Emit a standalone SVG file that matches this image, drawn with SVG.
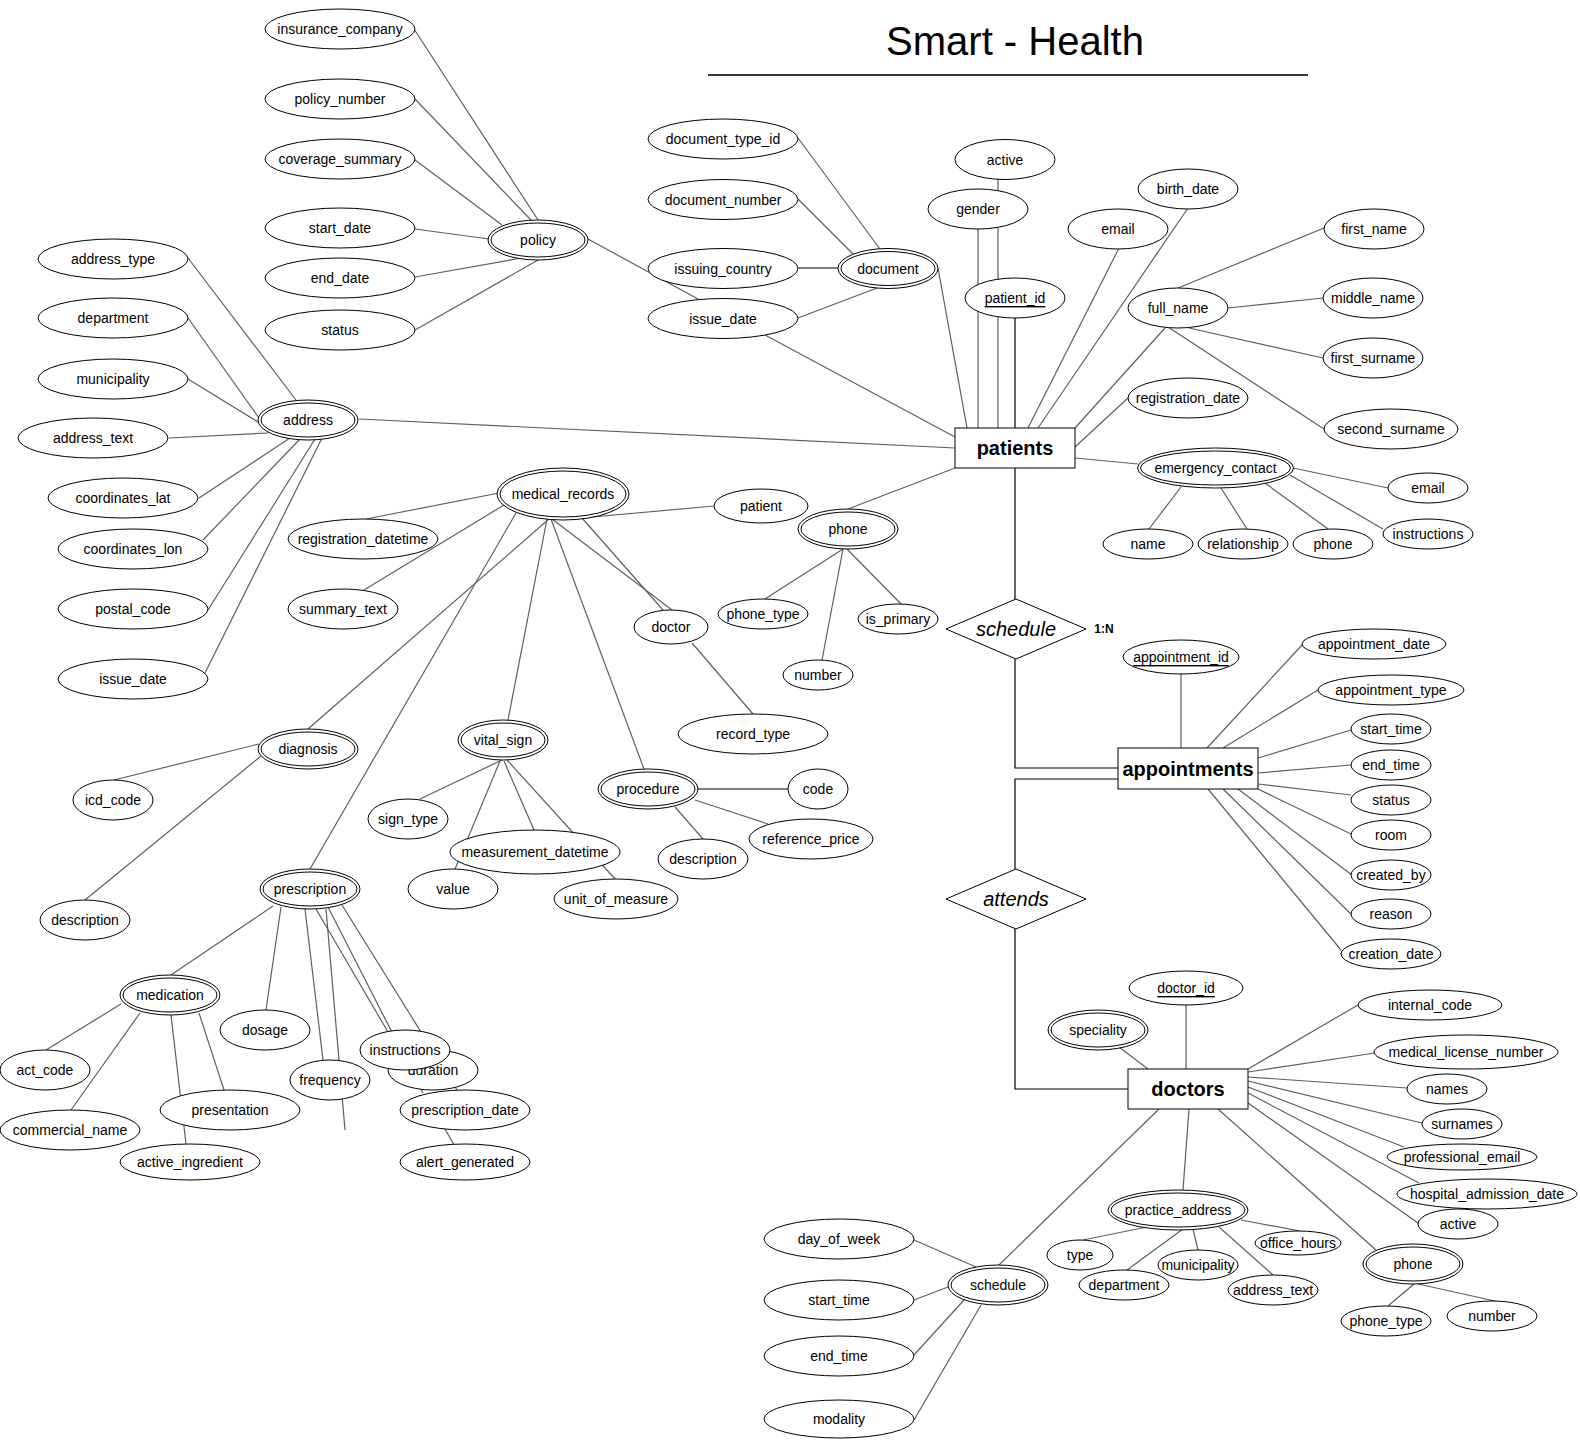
<svg xmlns="http://www.w3.org/2000/svg" width="1580" height="1440" viewBox="0 0 1580 1440">
<style>
text{font-family:"Liberation Sans",Arial,sans-serif;font-size:14px;text-anchor:middle;dominant-baseline:central;fill:#000}
ellipse,rect,polygon{fill:#fff;stroke:#000;stroke-width:1}
#connectors line{stroke:#5f5f5f;stroke-width:1.2}
#connectors .k{stroke:#000}
#connectors path{fill:none;stroke:#000;stroke-width:1.2}
.ent{font-size:20px;font-weight:bold}
.rel{font-size:20px;font-style:italic}
.u{text-decoration:underline}
</style>
<rect x="0" y="0" width="1580" height="1440" style="fill:#fff;stroke:none"/>
<g id="title">
<text x="1015" y="41" style="font-size:40px">Smart - Health</text>
<line x1="708" y1="75" x2="1308" y2="75" style="stroke:#333;stroke-width:2"/>
</g>
<g id="connectors">
<line x1="414" y1="29" x2="538" y2="220"/>
<line x1="415" y1="99" x2="531" y2="220"/>
<line x1="415" y1="160" x2="502" y2="225"/>
<line x1="415" y1="229" x2="489" y2="239"/>
<line x1="415" y1="277" x2="527" y2="257"/>
<line x1="415" y1="330" x2="538" y2="260"/>
<line x1="588" y1="239" x2="698" y2="299"/>
<line x1="188" y1="258" x2="296" y2="400"/>
<line x1="188" y1="318" x2="259" y2="418"/>
<line x1="188" y1="379" x2="263" y2="425"/>
<line x1="169" y1="438" x2="268" y2="433"/>
<line x1="199" y1="498" x2="290" y2="438"/>
<line x1="203" y1="540" x2="300" y2="439"/>
<line x1="208" y1="610" x2="315" y2="439"/>
<line x1="205" y1="673" x2="322" y2="438"/>
<line x1="359" y1="419" x2="955" y2="448"/>
<line x1="798" y1="138" x2="880" y2="249"/>
<line x1="798" y1="199" x2="853" y2="254"/>
<line class="k" x1="798" y1="268" x2="838" y2="268"/>
<line x1="798" y1="318" x2="877" y2="288"/>
<line x1="765" y1="335" x2="955" y2="437"/>
<line x1="938" y1="268" x2="967" y2="428"/>
<line x1="978" y1="229" x2="978" y2="428"/>
<line x1="998" y1="179" x2="998" y2="428"/>
<line class="k" x1="1015" y1="318" x2="1015" y2="428"/>
<line x1="1119" y1="248" x2="1028" y2="428"/>
<line x1="1188" y1="208" x2="1038" y2="428"/>
<line x1="1165" y1="328" x2="1075" y2="428"/>
<line x1="1178" y1="288" x2="1324" y2="228"/>
<line x1="1228" y1="308" x2="1323" y2="298"/>
<line x1="1189" y1="328" x2="1323" y2="358"/>
<line x1="1168" y1="327" x2="1324" y2="429"/>
<line x1="1128" y1="398" x2="1075" y2="447"/>
<line x1="1075" y1="458" x2="1138" y2="464"/>
<line x1="1293" y1="468" x2="1388" y2="488"/>
<line x1="1290" y1="475" x2="1383" y2="529"/>
<line x1="1181" y1="487" x2="1149" y2="529"/>
<line x1="1221" y1="488" x2="1247" y2="529"/>
<line x1="1265" y1="483" x2="1328" y2="529"/>
<line x1="955" y1="468" x2="848" y2="509"/>
<line x1="843" y1="549" x2="765" y2="599"/>
<line x1="843" y1="549" x2="822" y2="660"/>
<line x1="847" y1="549" x2="902" y2="605"/>
<line x1="499" y1="493" x2="366" y2="519"/>
<line x1="504" y1="505" x2="364" y2="590"/>
<line x1="516" y1="513" x2="310" y2="869"/>
<line x1="549" y1="519" x2="308" y2="729"/>
<line x1="547" y1="519" x2="508" y2="720"/>
<line x1="551" y1="519" x2="644" y2="769"/>
<line x1="582" y1="518" x2="663" y2="610"/>
<line x1="552" y1="519" x2="672" y2="610"/>
<line x1="570" y1="519" x2="714" y2="506"/>
<line x1="692" y1="643" x2="753" y2="714"/>
<line x1="259" y1="744" x2="114" y2="780"/>
<line x1="261" y1="756" x2="85" y2="900"/>
<line x1="502" y1="760" x2="420" y2="799"/>
<line x1="500" y1="761" x2="455" y2="869"/>
<line x1="504" y1="761" x2="534" y2="830"/>
<line x1="507" y1="760" x2="616" y2="880"/>
<line class="k" x1="698" y1="789" x2="788" y2="789"/>
<line x1="695" y1="800" x2="768" y2="824"/>
<line x1="675" y1="807" x2="703" y2="839"/>
<line x1="273" y1="906" x2="171" y2="975"/>
<line x1="281" y1="907" x2="266" y2="1010"/>
<line x1="305" y1="909" x2="323" y2="1060"/>
<line x1="326" y1="909" x2="345" y2="1130"/>
<line x1="316" y1="909" x2="388" y2="1032"/>
<line x1="328" y1="907" x2="423" y2="1093"/>
<line x1="342" y1="905" x2="457" y2="1090"/>
<line x1="445" y1="1129" x2="454" y2="1145"/>
<line x1="121" y1="1004" x2="46" y2="1050"/>
<line x1="140" y1="1013" x2="71" y2="1110"/>
<line x1="171" y1="1015" x2="186" y2="1144"/>
<line x1="199" y1="1013" x2="224" y2="1090"/>
<path d="M1015,468 V599"/>
<path d="M1015,659 V768 H1118"/>
<path d="M1015,869 V779 H1118"/>
<path d="M1015,929 V1089 H1128"/>
<line x1="1181" y1="674" x2="1181" y2="748"/>
<line x1="1302" y1="645" x2="1207" y2="748"/>
<line x1="1318" y1="690" x2="1223" y2="748"/>
<line x1="1351" y1="730" x2="1258" y2="758"/>
<line x1="1351" y1="765" x2="1258" y2="773"/>
<line x1="1351" y1="795" x2="1258" y2="784"/>
<line x1="1351" y1="834" x2="1258" y2="789"/>
<line x1="1352" y1="875" x2="1238" y2="789"/>
<line x1="1351" y1="914" x2="1223" y2="789"/>
<line x1="1341" y1="950" x2="1208" y2="789"/>
<line x1="1186" y1="1005" x2="1186" y2="1069"/>
<line x1="1119" y1="1047" x2="1148" y2="1069"/>
<line x1="1358" y1="1005" x2="1248" y2="1069"/>
<line x1="1375" y1="1053" x2="1248" y2="1072"/>
<line x1="1407" y1="1088" x2="1248" y2="1077"/>
<line x1="1422" y1="1123" x2="1248" y2="1081"/>
<line x1="1404" y1="1147" x2="1248" y2="1087"/>
<line x1="1419" y1="1183" x2="1248" y2="1093"/>
<line x1="1418" y1="1223" x2="1248" y2="1103"/>
<line x1="1218" y1="1109" x2="1376" y2="1250"/>
<line x1="1189" y1="1109" x2="1183" y2="1190"/>
<line x1="1159" y1="1109" x2="999" y2="1265"/>
<line x1="1147" y1="1227" x2="1083" y2="1240"/>
<line x1="1183" y1="1229" x2="1127" y2="1270"/>
<line x1="1193" y1="1229" x2="1198" y2="1250"/>
<line x1="1219" y1="1227" x2="1273" y2="1275"/>
<line x1="1241" y1="1220" x2="1300" y2="1231"/>
<line x1="1414" y1="1284" x2="1388" y2="1306"/>
<line x1="1418" y1="1284" x2="1495" y2="1301"/>
<line x1="914" y1="1240" x2="976" y2="1267"/>
<line x1="914" y1="1300" x2="948" y2="1287"/>
<line x1="914" y1="1355" x2="964" y2="1300"/>
<line x1="914" y1="1420" x2="981" y2="1305"/>
</g>
<!-- patients -->
<g id="patients"><rect x="955" y="428" width="120" height="40"/><text class="ent" x="1015" y="448">patients</text></g>
<g id="p_active"><ellipse cx="1005" cy="159.5" rx="50" ry="20"/><text x="1005" y="159.5">active</text></g>
<g id="p_gender"><ellipse cx="978" cy="209" rx="50" ry="20"/><text x="978" y="209">gender</text></g>
<g id="p_patient_id"><ellipse cx="1015" cy="298" rx="50" ry="20"/><text class="u" x="1015" y="298">patient_id</text></g>
<g id="p_email"><ellipse cx="1118" cy="229" rx="50" ry="20"/><text x="1118" y="229">email</text></g>
<g id="p_birth_date"><ellipse cx="1188" cy="189" rx="50" ry="20"/><text x="1188" y="189">birth_date</text></g>
<g id="p_full_name"><ellipse cx="1178" cy="308" rx="50" ry="20"/><text x="1178" y="308">full_name</text></g>
<g id="p_first_name"><ellipse cx="1374" cy="229" rx="50" ry="20"/><text x="1374" y="229">first_name</text></g>
<g id="p_middle_name"><ellipse cx="1373" cy="298" rx="50" ry="20"/><text x="1373" y="298">middle_name</text></g>
<g id="p_first_surname"><ellipse cx="1373" cy="358" rx="50" ry="20"/><text x="1373" y="358">first_surname</text></g>
<g id="p_second_surname"><ellipse cx="1391" cy="429" rx="67" ry="20"/><text x="1391" y="429">second_surname</text></g>
<g id="p_registration_date"><ellipse cx="1188" cy="398" rx="60" ry="20"/><text x="1188" y="398">registration_date</text></g>
<g id="emergency_contact"><ellipse cx="1215.5" cy="468" rx="78" ry="20"/><ellipse cx="1215.5" cy="468" rx="75" ry="17"/><text x="1215.5" y="468">emergency_contact</text></g>
<g id="ec_email"><ellipse cx="1428" cy="488" rx="40" ry="15"/><text x="1428" y="488">email</text></g>
<g id="ec_instructions"><ellipse cx="1428" cy="534" rx="45" ry="15"/><text x="1428" y="534">instructions</text></g>
<g id="ec_name"><ellipse cx="1148" cy="544" rx="45" ry="15"/><text x="1148" y="544">name</text></g>
<g id="ec_relationship"><ellipse cx="1243" cy="544" rx="45" ry="15"/><text x="1243" y="544">relationship</text></g>
<g id="ec_phone"><ellipse cx="1333" cy="544" rx="40" ry="15"/><text x="1333" y="544">phone</text></g>
<!-- document -->
<g id="document"><ellipse cx="888" cy="268.5" rx="50" ry="20"/><ellipse cx="888" cy="268.5" rx="47" ry="17"/><text x="888" y="268.5">document</text></g>
<g id="d_type_id"><ellipse cx="723" cy="139" rx="75" ry="20"/><text x="723" y="139">document_type_id</text></g>
<g id="d_number"><ellipse cx="723" cy="199.5" rx="75" ry="20"/><text x="723" y="199.5">document_number</text></g>
<g id="d_country"><ellipse cx="723" cy="268.5" rx="75" ry="20"/><text x="723" y="268.5">issuing_country</text></g>
<g id="d_issue_date"><ellipse cx="723" cy="318.5" rx="75" ry="20"/><text x="723" y="318.5">issue_date</text></g>
<!-- policy -->
<g id="policy"><ellipse cx="538" cy="240" rx="50" ry="20"/><ellipse cx="538" cy="240" rx="47" ry="17"/><text x="538" y="240">policy</text></g>
<g id="pol_insurance"><ellipse cx="340" cy="29" rx="75" ry="20"/><text x="340" y="29">insurance_company</text></g>
<g id="pol_number"><ellipse cx="340" cy="99" rx="75" ry="20"/><text x="340" y="99">policy_number</text></g>
<g id="pol_coverage"><ellipse cx="340" cy="159" rx="75" ry="20"/><text x="340" y="159">coverage_summary</text></g>
<g id="pol_start"><ellipse cx="340" cy="228" rx="75" ry="20"/><text x="340" y="228">start_date</text></g>
<g id="pol_end"><ellipse cx="340" cy="278" rx="75" ry="20"/><text x="340" y="278">end_date</text></g>
<g id="pol_status"><ellipse cx="340" cy="330" rx="75" ry="20"/><text x="340" y="330">status</text></g>
<!-- address -->
<g id="address"><ellipse cx="308" cy="420" rx="50" ry="20"/><ellipse cx="308" cy="420" rx="47" ry="17"/><text x="308" y="420">address</text></g>
<g id="a_type"><ellipse cx="113" cy="259" rx="75" ry="20"/><text x="113" y="259">address_type</text></g>
<g id="a_department"><ellipse cx="113" cy="318" rx="75" ry="20"/><text x="113" y="318">department</text></g>
<g id="a_municipality"><ellipse cx="113" cy="379" rx="75" ry="20"/><text x="113" y="379">municipality</text></g>
<g id="a_text"><ellipse cx="93" cy="438" rx="75" ry="20"/><text x="93" y="438">address_text</text></g>
<g id="a_lat"><ellipse cx="123" cy="498" rx="75" ry="20"/><text x="123" y="498">coordinates_lat</text></g>
<g id="a_lon"><ellipse cx="133" cy="549" rx="75" ry="20"/><text x="133" y="549">coordinates_lon</text></g>
<g id="a_postal"><ellipse cx="133" cy="609" rx="75" ry="20"/><text x="133" y="609">postal_code</text></g>
<g id="a_issue"><ellipse cx="133" cy="679" rx="75" ry="20"/><text x="133" y="679">issue_date</text></g>
<!-- patient phone -->
<g id="phone"><ellipse cx="848" cy="529" rx="50" ry="20"/><ellipse cx="848" cy="529" rx="47" ry="17"/><text x="848" y="529">phone</text></g>
<g id="ph_type"><ellipse cx="763" cy="614" rx="45" ry="15"/><text x="763" y="614">phone_type</text></g>
<g id="ph_primary"><ellipse cx="898" cy="619" rx="40" ry="15"/><text x="898" y="619">is_primary</text></g>
<g id="ph_number"><ellipse cx="818" cy="675" rx="35" ry="15"/><text x="818" y="675">number</text></g>
<!-- medical records -->
<g id="medical_records"><ellipse cx="563" cy="494" rx="66" ry="26"/><ellipse cx="563" cy="494" rx="63" ry="23"/><text x="563" y="494">medical_records</text></g>
<g id="mr_patient"><ellipse cx="761" cy="506" rx="47" ry="17"/><text x="761" y="506">patient</text></g>
<g id="mr_reg"><ellipse cx="363" cy="539" rx="75" ry="20"/><text x="363" y="539">registration_datetime</text></g>
<g id="mr_summary"><ellipse cx="343" cy="609" rx="55" ry="20"/><text x="343" y="609">summary_text</text></g>
<g id="mr_doctor"><ellipse cx="671" cy="627" rx="37" ry="17"/><text x="671" y="627">doctor</text></g>
<g id="mr_record_type"><ellipse cx="753" cy="734" rx="75" ry="20"/><text x="753" y="734">record_type</text></g>
<g id="diagnosis"><ellipse cx="308" cy="749" rx="50" ry="20"/><ellipse cx="308" cy="749" rx="47" ry="17"/><text x="308" y="749">diagnosis</text></g>
<g id="dg_icd"><ellipse cx="113" cy="800" rx="40" ry="20"/><text x="113" y="800">icd_code</text></g>
<g id="dg_desc"><ellipse cx="85" cy="920" rx="45" ry="20"/><text x="85" y="920">description</text></g>
<g id="vital_sign"><ellipse cx="503" cy="740" rx="45" ry="20"/><ellipse cx="503" cy="740" rx="42" ry="17"/><text x="503" y="740">vital_sign</text></g>
<g id="vs_sign_type"><ellipse cx="408" cy="819" rx="40" ry="20"/><text x="408" y="819">sign_type</text></g>
<g id="vs_value"><ellipse cx="453" cy="889" rx="45" ry="20"/><text x="453" y="889">value</text></g>
<g id="vs_unit"><ellipse cx="616" cy="899" rx="62" ry="20"/><text x="616" y="899">unit_of_measure</text></g>
<g id="vs_measurement"><ellipse cx="535" cy="852" rx="85" ry="22"/><text x="535" y="852">measurement_datetime</text></g>
<g id="procedure"><ellipse cx="648" cy="789" rx="50" ry="20"/><ellipse cx="648" cy="789" rx="47" ry="17"/><text x="648" y="789">procedure</text></g>
<g id="pr_code"><ellipse cx="818" cy="789" rx="30" ry="20"/><text x="818" y="789">code</text></g>
<g id="pr_price"><ellipse cx="811" cy="839" rx="62" ry="20"/><text x="811" y="839">reference_price</text></g>
<g id="pr_desc"><ellipse cx="703" cy="859" rx="45" ry="20"/><text x="703" y="859">description</text></g>
<g id="prescription"><ellipse cx="310" cy="889" rx="50" ry="20"/><ellipse cx="310" cy="889" rx="47" ry="17"/><text x="310" y="889">prescription</text></g>
<g id="medication"><ellipse cx="170" cy="995" rx="50" ry="20"/><ellipse cx="170" cy="995" rx="47" ry="17"/><text x="170" y="995">medication</text></g>
<g id="rx_dosage"><ellipse cx="265" cy="1030" rx="45" ry="20"/><text x="265" y="1030">dosage</text></g>
<g id="md_act"><ellipse cx="45" cy="1070" rx="45" ry="20"/><text x="45" y="1070">act_code</text></g>
<g id="md_commercial"><ellipse cx="70" cy="1130" rx="70" ry="20"/><text x="70" y="1130">commercial_name</text></g>
<g id="md_presentation"><ellipse cx="230" cy="1110" rx="70" ry="20"/><text x="230" y="1110">presentation</text></g>
<g id="md_ingredient"><ellipse cx="190" cy="1162" rx="70" ry="18"/><text x="190" y="1162">active_ingredient</text></g>
<g id="rx_frequency"><ellipse cx="330" cy="1080" rx="40" ry="20"/><text x="330" y="1080">frequency</text></g>
<g id="rx_duration"><ellipse cx="433" cy="1070" rx="45" ry="20"/><text x="433" y="1070">duration</text></g>
<g id="rx_instructions"><ellipse cx="405" cy="1050" rx="45" ry="20"/><text x="405" y="1050">instructions</text></g>
<g id="rx_date"><ellipse cx="465" cy="1110" rx="65" ry="20"/><text x="465" y="1110">prescription_date</text></g>
<g id="rx_alert"><ellipse cx="465" cy="1162" rx="65" ry="18"/><text x="465" y="1162">alert_generated</text></g>
<!-- relationships -->
<g id="schedule_rel"><polygon points="1016,599 1086,629 1016,659 946,629"/><text class="rel" x="1016" y="629">schedule</text><text x="1104" y="629" style="font-size:12px;font-weight:bold">1:N</text></g>
<g id="attends_rel"><polygon points="1016,869 1086,899 1016,929 946,899"/><text class="rel" x="1016" y="899">attends</text></g>
<!-- appointments -->
<g id="appointments"><rect x="1118" y="748" width="140" height="41"/><text class="ent" x="1188" y="768.5">appointments</text></g>
<g id="ap_id"><ellipse cx="1181" cy="657" rx="58" ry="17"/><text class="u" x="1181" y="657">appointment_id</text></g>
<g id="ap_date"><ellipse cx="1374" cy="644" rx="72" ry="15"/><text x="1374" y="644">appointment_date</text></g>
<g id="ap_type"><ellipse cx="1391" cy="690" rx="73" ry="15"/><text x="1391" y="690">appointment_type</text></g>
<g id="ap_start"><ellipse cx="1391" cy="729" rx="40" ry="15"/><text x="1391" y="729">start_time</text></g>
<g id="ap_end"><ellipse cx="1391" cy="765" rx="40" ry="15"/><text x="1391" y="765">end_time</text></g>
<g id="ap_status"><ellipse cx="1391" cy="800" rx="40" ry="15"/><text x="1391" y="800">status</text></g>
<g id="ap_room"><ellipse cx="1391" cy="835" rx="40" ry="15"/><text x="1391" y="835">room</text></g>
<g id="ap_created_by"><ellipse cx="1391" cy="875" rx="40" ry="15"/><text x="1391" y="875">created_by</text></g>
<g id="ap_reason"><ellipse cx="1391" cy="914" rx="40" ry="15"/><text x="1391" y="914">reason</text></g>
<g id="ap_creation"><ellipse cx="1391" cy="954" rx="50" ry="15"/><text x="1391" y="954">creation_date</text></g>
<!-- doctors -->
<g id="doctors"><rect x="1128" y="1069" width="120" height="40"/><text class="ent" x="1188" y="1089">doctors</text></g>
<g id="dr_id"><ellipse cx="1186" cy="988" rx="57" ry="17"/><text class="u" x="1186" y="988">doctor_id</text></g>
<g id="speciality"><ellipse cx="1098" cy="1030" rx="50" ry="20"/><ellipse cx="1098" cy="1030" rx="47" ry="17"/><text x="1098" y="1030">speciality</text></g>
<g id="dr_internal"><ellipse cx="1430" cy="1005" rx="72" ry="15"/><text x="1430" y="1005">internal_code</text></g>
<g id="dr_license"><ellipse cx="1466" cy="1052" rx="92" ry="17"/><text x="1466" y="1052">medical_license_number</text></g>
<g id="dr_names"><ellipse cx="1447" cy="1089" rx="40" ry="15"/><text x="1447" y="1089">names</text></g>
<g id="dr_surnames"><ellipse cx="1462" cy="1124" rx="40" ry="15"/><text x="1462" y="1124">surnames</text></g>
<g id="dr_email"><ellipse cx="1462" cy="1157" rx="75" ry="13"/><text x="1462" y="1157">professional_email</text></g>
<g id="dr_admission"><ellipse cx="1487" cy="1194" rx="90" ry="15"/><text x="1487" y="1194">hospital_admission_date</text></g>
<g id="dr_active"><ellipse cx="1458" cy="1224" rx="40" ry="15"/><text x="1458" y="1224">active</text></g>
<g id="dr_phone"><ellipse cx="1413" cy="1264" rx="50" ry="20"/><ellipse cx="1413" cy="1264" rx="47" ry="17"/><text x="1413" y="1264">phone</text></g>
<g id="dp_type"><ellipse cx="1386" cy="1321" rx="45" ry="15"/><text x="1386" y="1321">phone_type</text></g>
<g id="dp_number"><ellipse cx="1492" cy="1316" rx="45" ry="15"/><text x="1492" y="1316">number</text></g>
<g id="practice_address"><ellipse cx="1178" cy="1210" rx="70" ry="20"/><ellipse cx="1178" cy="1210" rx="67" ry="17"/><text x="1178" y="1210">practice_address</text></g>
<g id="pa_type"><ellipse cx="1080" cy="1255" rx="33" ry="15"/><text x="1080" y="1255">type</text></g>
<g id="pa_municipality"><ellipse cx="1198" cy="1265" rx="40" ry="15"/><text x="1198" y="1265">municipality</text></g>
<g id="pa_department"><ellipse cx="1124" cy="1285" rx="45" ry="15"/><text x="1124" y="1285">department</text></g>
<g id="pa_office"><ellipse cx="1298" cy="1243" rx="43" ry="12"/><text x="1298" y="1243">office_hours</text></g>
<g id="pa_text"><ellipse cx="1273" cy="1290" rx="45" ry="15"/><text x="1273" y="1290">address_text</text></g>
<g id="schedule"><ellipse cx="998" cy="1285" rx="50" ry="20"/><ellipse cx="998" cy="1285" rx="47" ry="17"/><text x="998" y="1285">schedule</text></g>
<g id="sc_day"><ellipse cx="839" cy="1239" rx="75" ry="20"/><text x="839" y="1239">day_of_week</text></g>
<g id="sc_start"><ellipse cx="839" cy="1300" rx="75" ry="20"/><text x="839" y="1300">start_time</text></g>
<g id="sc_end"><ellipse cx="839" cy="1356" rx="75" ry="20"/><text x="839" y="1356">end_time</text></g>
<g id="sc_modality"><ellipse cx="839" cy="1419" rx="75" ry="19"/><text x="839" y="1419">modality</text></g>
</svg>
